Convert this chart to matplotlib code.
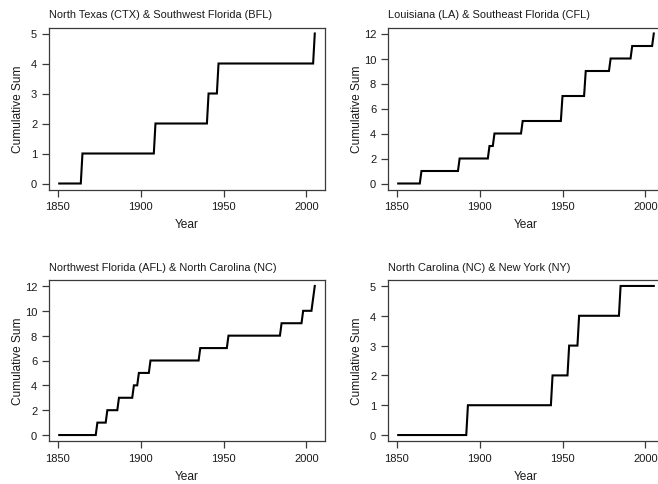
import numpy as np
import matplotlib.pyplot as plt

plt.rcParams['font.family'] = ['Liberation Sans', 'DejaVu Sans']

# annual record, 1851-2005
years = np.arange(1851, 2006)

# years in which both regions were hit (repeats = two hits that year)
events_ctx_bfl = [1865, 1909, 1941, 1947, 2005]
events_la_cfl = [1865, 1888, 1906, 1909, 1926, 1950, 1950, 1964, 1964,
                 1979, 1992, 2005]
events_afl_nc = [1874, 1880, 1887, 1896, 1899, 1906, 1936, 1953, 1985,
                 1998, 2004, 2005]
events_nc_ny = [1893, 1944, 1954, 1960, 1985]

titles = [
    "North Texas (CTX) & Southwest Florida (BFL)",
    "Louisiana (LA) & Southeast Florida (CFL)",
    "Northwest Florida (AFL) & North Carolina (NC)",
    "North Carolina (NC) & New York (NY)",
]
all_events = [events_ctx_bfl, events_la_cfl, events_afl_nc, events_nc_ny]
y_ticks = [range(0, 6), range(0, 13, 2), range(0, 13, 2), range(0, 6)]
x_ticks = [1850, 1900, 1950, 2000]

W, H = 658, 485
fig = plt.figure(figsize=(W / 100, H / 100), dpi=100)

# panel boxes in pixels: left, top, width, height (right column runs off the page)
boxes = [(49, 28.5, 276, 162), (388, 28.5, 276, 162),
         (49, 281, 276, 161), (388, 281, 276, 161)]

edge = "#3a3a3a"
for (left, top, w, h), title, events, yt in zip(boxes, titles, all_events, y_ticks):
    ax = fig.add_axes([left / W, 1 - (top + h) / H, w / W, h / H])

    counts = np.zeros(len(years))
    np.add.at(counts, np.array(events) - years[0], 1)
    cum = np.cumsum(counts)
    ax.plot(years, cum, color="black", lw=1.5, solid_joinstyle="miter")

    # R-style 4% padding on both axes
    xr = years[-1] - years[0]
    ax.set_xlim(years[0] - 0.04 * xr, years[-1] + 0.04 * xr)
    ymax = cum.max()
    ax.set_ylim(-0.04 * ymax, ymax * 1.04)

    ax.set_xticks(x_ticks)
    ax.set_yticks(list(yt))
    ax.tick_params(direction="out", length=5, width=0.9, color=edge,
                   labelsize=8, pad=3.5, labelcolor="#1a1a1a")
    for s in ax.spines.values():
        s.set_color(edge)
        s.set_linewidth(0.9)

    ax.set_title(title, loc="left", fontsize=7.9, pad=7.5, color="#1a1a1a")
    ax.set_xlabel("Year", fontsize=8.6, color="#1a1a1a")
    ax.set_ylabel("Cumulative Sum", fontsize=8.6, color="#1a1a1a")
    ax.xaxis.set_label_coords(0.5, -29 / h, transform=ax.transAxes)
    ax.yaxis.set_label_coords(-25 / w, 0.5, transform=ax.transAxes)
    ax.xaxis.label.set_va("top")

fig.savefig("out.png", dpi=100)
